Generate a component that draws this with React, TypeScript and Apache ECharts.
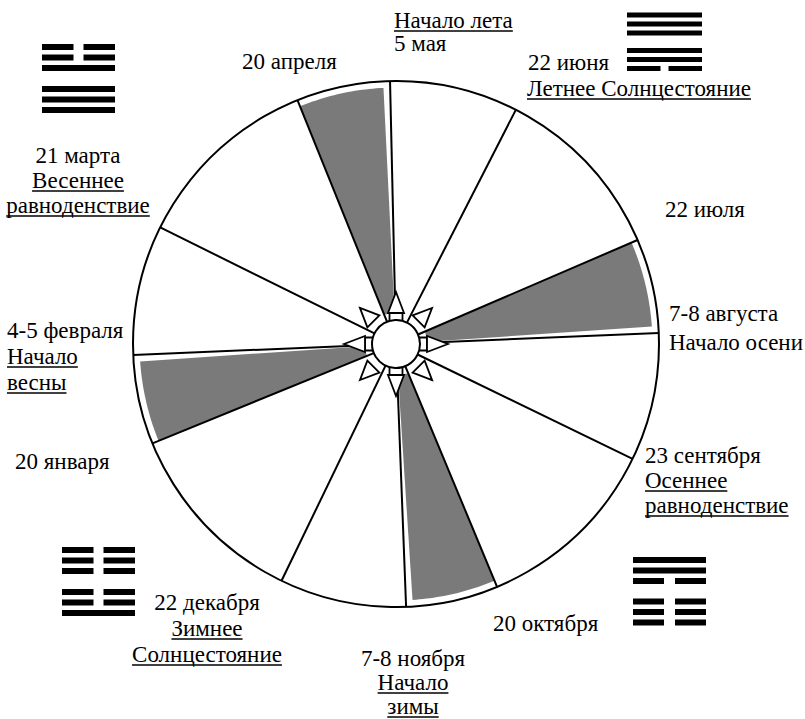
import React, { useEffect, useRef } from 'react';
import * as echarts from 'echarts';

// ---- data (angles in degrees, counter-clockwise from 3 o'clock) ----
const mainSpokeAngles = [2.4, 91.3, 182.4, 272.2]; // начала сезонов
const solsticeSpokeAngles = [62.9, 153.7, 244.2, 334.1]; // солнцестояния / равноденствия
const wedgeOuterAngles = [23.3, 112.0, 202.2, 292.6]; // 22 июля, 20 апреля, 20 января, 20 октября
const arrowAngles = [0, 45, 90, 135, 180, 225, 270, 315];

// hexagram lines, top to bottom (1 = solid yang, 0 = broken yin)
const hexTopLeft = [0, 0, 1, 1, 1, 1];
const hexTopRight = [1, 1, 1, 1, 1, 0];
const hexBottomLeft = [0, 0, 0, 0, 0, 1];
const hexBottomRight = [1, 1, 0, 0, 0, 0];

// label texts and underline flags
const labelTexts: string[][] = [
  ['Начало лета', '5 мая'],
  ['20 апреля'],
  ['22 июня'],
  ['Летнее Солнцестояние'],
  ['21 марта', 'Весеннее', 'равноденствие'],
  ['22 июля'],
  ['7-8 августа', 'Начало осени'],
  ['4-5 февраля', 'Начало', 'весны'],
  ['20 января'],
  ['23 сентября', 'Осеннее', 'равноденствие'],
  ['20 октября'],
  ['7-8 ноября', 'Начало', 'зимы'],
  ['22 декабря', 'Зимнее', 'Солнцестояние'],
];
const labelUnderlines: number[][] = [
  [1, 0],
  [0],
  [0],
  [1],
  [0, 1, 1],
  [0],
  [0, 0],
  [0, 1, 1],
  [0],
  [0, 1, 1],
  [0],
  [0, 1, 1],
  [0, 1, 1],
];

// ---- layout ----
const labelLayout = [
  { x: 394, base: 28, lh: 23, align: 'left' },
  { x: 242, base: 69, lh: 25, align: 'left' },
  { x: 528, base: 70, lh: 25, align: 'left' },
  { x: 527, base: 96, lh: 25, align: 'left' },
  { x: 78, base: 163, lh: 25, align: 'center' },
  { x: 665, base: 217, lh: 25, align: 'left' },
  { x: 669, base: 321, lh: 29, align: 'left' },
  { x: 7, base: 338, lh: 26, align: 'left' },
  { x: 15, base: 469, lh: 25, align: 'left' },
  { x: 645, base: 463, lh: 25, align: 'left' },
  { x: 493, base: 631, lh: 25, align: 'left' },
  { x: 413, base: 666, lh: 24, align: 'center' },
  { x: 207, base: 610, lh: 26, align: 'center' },
];

const hexLayout = [
  { lines: hexTopLeft, x: 42, y: 47, w: 73, sp: 10.5, tg: 10.5, t: 6, gap: 10 },
  { lines: hexTopRight, x: 627, y: 15, w: 75, sp: 9, tg: 8.5, t: 5, gap: 8 },
  { lines: hexBottomLeft, x: 62, y: 550, w: 73, sp: 10.5, tg: 10.5, t: 6, gap: 10 },
  { lines: hexBottomRight, x: 633, y: 560, w: 73, sp: 10.5, tg: 10, t: 6, gap: 11 },
];

const CX = 396;
const CY = 344;
const R = 263;
const FONT_SIZE = 23;
const FONT_FAMILY = 'Liberation Serif';
const GRAY = '#7a7a7a';

export default function App() {
  const ref = useRef<HTMLDivElement>(null);

  useEffect(() => {
    if (!ref.current) return;
    const chart = echarts.init(ref.current, null, { renderer: 'svg' });

    const canvas = document.createElement('canvas');
    const ctx = canvas.getContext('2d')!;
    ctx.font = `${FONT_SIZE}px "${FONT_FAMILY}"`;

    const graphics: any[] = [];

    // labels
    labelTexts.forEach((lines, bi) => {
      const L = labelLayout[bi];
      lines.forEach((txt, li) => {
        const base = L.base + li * L.lh;
        graphics.push({
          type: 'text',
          x: L.x,
          y: base - 0.34 * FONT_SIZE,
          silent: true,
          style: {
            text: txt,
            fontSize: FONT_SIZE,
            fontFamily: FONT_FAMILY,
            fill: '#000',
            align: L.align,
            textAlign: L.align,
            verticalAlign: 'middle',
            textVerticalAlign: 'middle',
          },
        });
        if (labelUnderlines[bi][li]) {
          const w = ctx.measureText(txt).width;
          const x1 = L.align === 'center' ? L.x - w / 2 : L.x;
          graphics.push({
            type: 'line',
            silent: true,
            shape: { x1, y1: base + 3, x2: x1 + w, y2: base + 3 },
            style: { stroke: '#000', lineWidth: 1.4 },
          });
        }
      });
    });

    // hexagrams
    hexLayout.forEach((H) => {
      H.lines.forEach((v, i) => {
        const cy = H.y + i * H.sp + (i >= 3 ? H.tg : 0);
        if (v) {
          graphics.push({
            type: 'rect',
            silent: true,
            shape: { x: H.x, y: cy - H.t / 2, width: H.w, height: H.t },
            style: { fill: '#000' },
          });
        } else {
          const half = (H.w - H.gap) / 2;
          graphics.push({
            type: 'rect',
            silent: true,
            shape: { x: H.x, y: cy - H.t / 2, width: half, height: H.t },
            style: { fill: '#000' },
          });
          graphics.push({
            type: 'rect',
            silent: true,
            shape: { x: H.x + half + H.gap, y: cy - H.t / 2, width: half, height: H.t },
            style: { fill: '#000' },
          });
        }
      });
    });

    const spokeData = [...mainSpokeAngles, ...solsticeSpokeAngles, ...wedgeOuterAngles].map((a) => [1, a]);
    const wedgeData = wedgeOuterAngles.map((o, i) => [1, mainSpokeAngles[i] + 1.5, o]);
    const arrowData = arrowAngles.map((a) => [0.15, a]);

    const unitDir = (api: any, a: number) => {
      const c = api.coord([0, a]);
      const e = api.coord([1, a]);
      const dx = e[0] - c[0];
      const dy = e[1] - c[1];
      const L = Math.hypot(dx, dy) || 1;
      return { c, ux: dx / L, uy: dy / L };
    };

    const option: any = {
      animation: false,
      backgroundColor: '#fff',
      polar: { center: [CX, CY], radius: R },
      angleAxis: {
        type: 'value',
        min: 0,
        max: 360,
        startAngle: 0,
        clockwise: false,
        axisLine: { show: true, lineStyle: { color: '#000', width: 2 } },
        axisTick: { show: false },
        axisLabel: { show: false },
        splitLine: { show: false },
      },
      radiusAxis: {
        type: 'value',
        min: 0,
        max: 1,
        axisLine: { show: false },
        axisTick: { show: false },
        axisLabel: { show: false },
        splitLine: { show: false },
      },
      series: [
        {
          type: 'custom',
          name: 'wedges',
          coordinateSystem: 'polar',
          silent: true,
          z: 1,
          data: wedgeData,
          renderItem: (params: any, api: any) => {
            const a1 = api.value(1);
            const a2 = api.value(2);
            const pts: number[][] = [];
            const n = 24;
            for (let k = 0; k <= n; k++) {
              const a = a1 + ((a2 - a1) * k) / n;
              pts.push(api.coord([0.975, a]));
            }
            pts.push(api.coord([0.12, a2]));
            pts.push(api.coord([0.12, a1]));
            return { type: 'polygon', shape: { points: pts }, style: { fill: GRAY } };
          },
        },
        {
          type: 'custom',
          name: 'spokes',
          coordinateSystem: 'polar',
          silent: true,
          z: 2,
          data: spokeData,
          renderItem: (params: any, api: any) => {
            const a = api.value(1);
            const p0 = api.coord([24 / R, a]);
            const p1 = api.coord([1, a]);
            return {
              type: 'line',
              shape: { x1: p0[0], y1: p0[1], x2: p1[0], y2: p1[1] },
              style: { stroke: '#000', lineWidth: 2 },
            };
          },
        },
        {
          type: 'custom',
          name: 'arrows',
          coordinateSystem: 'polar',
          silent: true,
          z: 3,
          data: arrowData,
          renderItem: (params: any, api: any) => {
            const a = api.value(1);
            const { c, ux, uy } = unitDir(api, a);
            const vx = -uy;
            const vy = ux;
            const P = (r: number, s: number) => [c[0] + ux * r + vx * s, c[1] + uy * r + vy * s];
            const children: any[] = [];
            const axial = Math.abs(a % 90) < 1e-6;
            if (axial) {
              children.push({
                type: 'polygon',
                shape: { points: [P(23, 6.5), P(31, 6.5), P(31, -6.5), P(23, -6.5)] },
                style: { fill: '#fff', stroke: '#000', lineWidth: 1.8 },
              });
            }
            children.push({
              type: 'polygon',
              shape: { points: axial ? [P(52, 0), P(31, 8), P(31, -8)] : [P(51, 0), P(32, 8.5), P(32, -8.5)] },
              style: { fill: '#fff', stroke: '#000', lineWidth: 1.8, lineJoin: 'miter' },
            });
            return { type: 'group', children };
          },
        },
        {
          type: 'custom',
          name: 'center',
          coordinateSystem: 'polar',
          silent: true,
          z: 4,
          data: [[0, 0]],
          renderItem: (params: any, api: any) => {
            const c = api.coord([0, 0]);
            return {
              type: 'circle',
              shape: { cx: c[0], cy: c[1], r: 24 },
              style: { fill: '#fff', stroke: '#000', lineWidth: 2 },
            };
          },
        },
      ],
      graphic: { elements: graphics },
    };

    chart.setOption(option);
    return () => chart.dispose();
  }, []);

  return (
    <div
      ref={ref}
      style={{ position: 'fixed', left: 0, top: 0, width: 805, height: 719, background: '#fff' }}
    />
  );
}
